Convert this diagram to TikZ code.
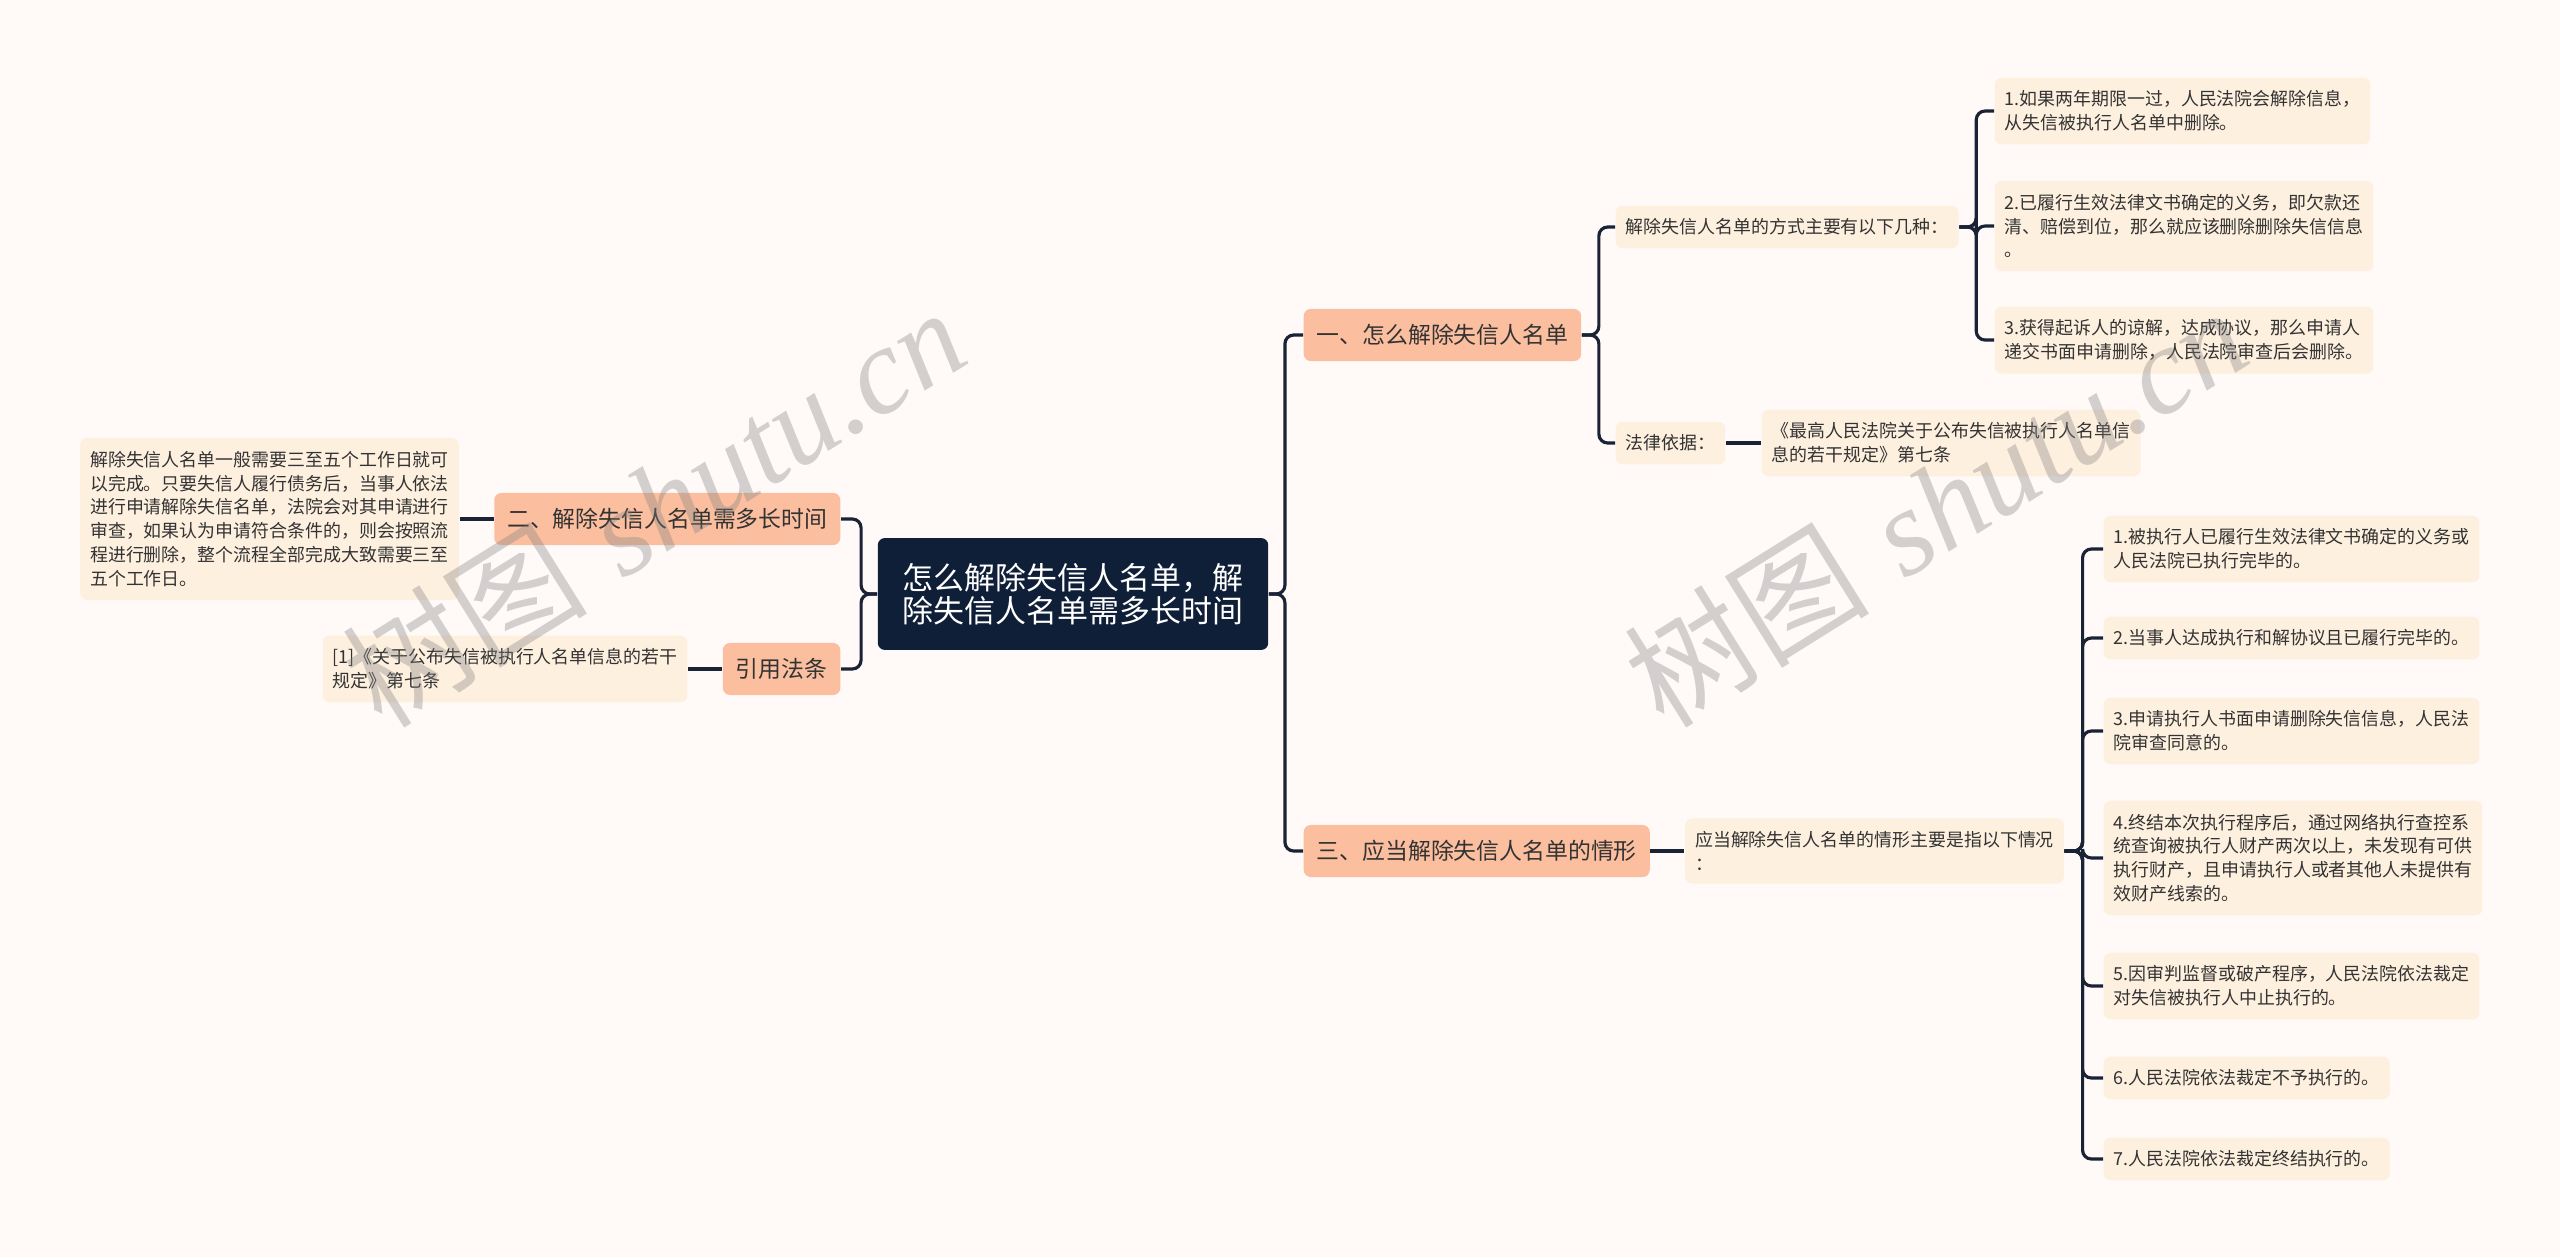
\documentclass[tikz,border=0pt]{standalone}
\usepackage{fontspec}
\usepackage{tikz}
\usetikzlibrary{positioning}
\newfontfamily\cjk{Noto Sans CJK SC}
\newfontfamily\wmserif{Liberation Serif}
\definecolor{pagebg}{HTML}{FFFAF8}
\definecolor{rootfill}{HTML}{0F1F38}
\definecolor{branchfill}{HTML}{FBBF9F}
\definecolor{leaffill}{HTML}{FEF0DF}
\definecolor{linkcol}{HTML}{1A2236}
\definecolor{textcol}{HTML}{333333}

\begin{document}
\begin{tikzpicture}[x=0.01cm, y=-0.01cm,
  root/.style={fill=rootfill, rounded corners=2pt, text=white, align=center, inner xsep=0.25cm, inner ysep=0.25cm, font=\cjk\fontsize{8.8}{9.4}\selectfont},
  branch/.style={fill=branchfill, rounded corners=2pt, text=textcol, inner xsep=0.13cm, minimum height=0.52cm, font=\cjk\fontsize{6.5}{7.5}\selectfont},
  leaf/.style={fill=leaffill, rounded corners=2pt, text=textcol, align=left, inner xsep=0.1cm, inner ysep=0.13cm, font=\cjk\fontsize{5.1}{6.8}\selectfont},
  link/.style={draw=linkcol, line width=0.9pt, rounded corners=2.5pt},
  wmark/.style={text=gray, opacity=0.35, rotate=32, font=\fontsize{35}{40}\selectfont}
]
  \fill[pagebg] (0,0) rectangle (2560,1257);
  \useasboundingbox (0,0) rectangle (2560,1257);

  \node[root] (root) at (1073,594) {怎么解除失信人名单，解\\除失信人名单需多长时间};

  % left side
  \node[branch, anchor=east] (er) at (841,519) {二、解除失信人名单需多长时间};
  \node[leaf, left=0.34cm of er] (howlong) {解除失信人名单一般需要三至五个工作日就可\\以完成。只要失信人履行债务后，当事人依法\\进行申请解除失信名单，法院会对其申请进行\\审查，如果认为申请符合条件的，则会按照流\\程进行删除，整个流程全部完成大致需要三至\\五个工作日。};
  \node[branch, anchor=east] (yinyong) at (841,669) {引用法条};
  \node[leaf, left=0.34cm of yinyong] (cite) {[1]《关于公布失信被执行人名单信息的若干\\规定》第七条};

  % right side, upper
  \node[branch, anchor=west] (yi) at (1303,335) {一、怎么解除失信人名单};
  \node[leaf, anchor=west] (fangshi) at (1615,227) {解除失信人名单的方式主要有以下几种：};
  \node[leaf, anchor=west] (m1) at (1994,111) {1.如果两年期限一过，人民法院会解除信息，\\从失信被执行人名单中删除。};
  \node[leaf, anchor=west] (m2) at (1994,226) {2.已履行生效法律文书确定的义务，即欠款还\\清、赔偿到位，那么就应该删除删除失信信息\\。};
  \node[leaf, anchor=west] (m3) at (1994,340) {3.获得起诉人的谅解，达成协议，那么申请人\\递交书面申请删除，人民法院审查后会删除。};
  \node[leaf, anchor=west] (falv) at (1615,443) {法律依据：};
  \node[leaf, right=0.35cm of falv] (basis) {《最高人民法院关于公布失信被执行人名单信\\息的若干规定》第七条};

  % right side, lower
  \node[branch, anchor=west] (san) at (1303,851) {三、应当解除失信人名单的情形};
  \node[leaf, right=0.34cm of san] (qingxing) {应当解除失信人名单的情形主要是指以下情况\\：};
  \node[leaf, anchor=west] (c1) at (2103,549) {1.被执行人已履行生效法律文书确定的义务或\\人民法院已执行完毕的。};
  \node[leaf, anchor=west] (c2) at (2103,638) {2.当事人达成执行和解协议且已履行完毕的。};
  \node[leaf, anchor=west] (c3) at (2103,731) {3.申请执行人书面申请删除失信信息，人民法\\院审查同意的。};
  \node[leaf, anchor=west] (c4) at (2103,858) {4.终结本次执行程序后，通过网络执行查控系\\统查询被执行人财产两次以上，未发现有可供\\执行财产，且申请执行人或者其他人未提供有\\效财产线索的。};
  \node[leaf, anchor=west] (c5) at (2103,986) {5.因审判监督或破产程序，人民法院依法裁定\\对失信被执行人中止执行的。};
  \node[leaf, anchor=west] (c6) at (2103,1078) {6.人民法院依法裁定不予执行的。};
  \node[leaf, anchor=west] (c7) at (2103,1159) {7.人民法院依法裁定终结执行的。};

  % connectors
  \draw[link] (root.west) -- ++(-16,0) |- (er.east);
  \draw[link] (root.west) -- ++(-16,0) |- (yinyong.east);
  \draw[link] (er.west) -- (howlong.east);
  \draw[link] (yinyong.west) -- (cite.east);
  \draw[link] (root.east) -- ++(16,0) |- (yi.west);
  \draw[link] (root.east) -- ++(16,0) |- (san.west);
  \draw[link] (yi.east) -- ++(17,0) |- (fangshi.west);
  \draw[link] (yi.east) -- ++(17,0) |- (falv.west);
  \draw[link] (fangshi.east) -- ++(17,0) |- (m1.west);
  \draw[link] (fangshi.east) -- ++(17,0) |- (m2.west);
  \draw[link] (fangshi.east) -- ++(17,0) |- (m3.west);
  \draw[link] (falv.east) -- (basis.west);
  \draw[link] (san.east) -- (qingxing.west);
  \draw[link] (qingxing.east) -- ++(18,0) |- (c1.west);
  \draw[link] (qingxing.east) -- ++(18,0) |- (c2.west);
  \draw[link] (qingxing.east) -- ++(18,0) |- (c3.west);
  \draw[link] (qingxing.east) -- ++(18,0) |- (c4.west);
  \draw[link] (qingxing.east) -- ++(18,0) |- (c5.west);
  \draw[link] (qingxing.east) -- ++(18,0) |- (c6.west);
  \draw[link] (qingxing.east) -- ++(18,0) |- (c7.west);

  % watermarks
  \node[wmark] (wm1) at (653,506) {{\cjk 树图} {\wmserif\itshape shutu.cn}};
  \node[wmark] (wm2) at (1935,506) {{\cjk 树图} {\wmserif\itshape shutu.cn}};
\end{tikzpicture}
\end{document}
